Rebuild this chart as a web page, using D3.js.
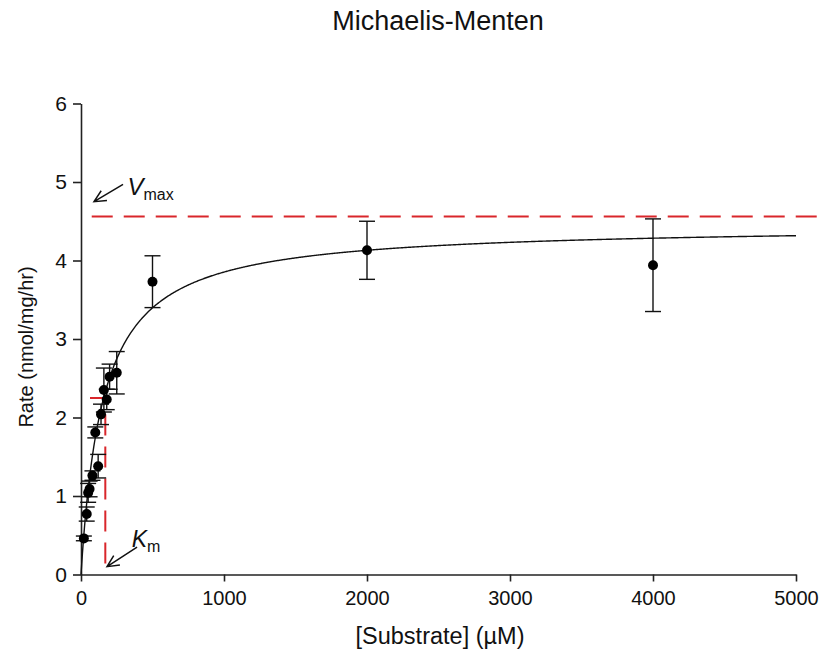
<!DOCTYPE html>
<html>
<head>
  <meta charset="utf-8">
  <title>Michaelis-Menten</title>
  <script src="https://d3js.org/d3.v7.min.js"></script>
  <style>
    body { margin: 0; background: #fff; }
    text { font-family: "Liberation Sans", Arial, sans-serif; fill: #111; }
  </style>
</head>
<body>
<script>
  // measured points: substrate (uM), rate (nmol/mg/hr), error
  const substrate = [20, 40, 50, 60, 80, 100, 120, 140, 160, 180, 200, 250, 500, 2000, 4000];
  const rate      = [0.46, 0.77, 1.04, 1.09, 1.26, 1.81, 1.38, 2.04, 2.35, 2.23, 2.52, 2.57, 3.73, 4.13, 3.94];
  const rateErr   = [0.03, 0.09, 0.12, 0.10, 0.06, 0.07, 0.15, 0.13, 0.28, 0.13, 0.16, 0.27, 0.33, 0.37, 0.59];

  // fitted curve parameters
  const fitVmax = 4.45, fitKm = 155;
  // annotation guides
  const vmaxLine = 4.56, kmLine = 170, halfV = 2.25;

  const xTicks = [0, 1000, 2000, 3000, 4000, 5000];
  const yTicks = [0, 1, 2, 3, 4, 5, 6];

  const W = 820, H = 658;
  const svg = d3.select("body").append("svg")
    .attr("width", W).attr("height", H);

  const x = d3.scaleLinear().domain([0, 5000]).range([81, 796]);
  const y = d3.scaleLinear().domain([0, 6]).range([574.5, 103.5]);

  // title
  svg.append("text")
    .attr("x", 438).attr("y", 30)
    .attr("text-anchor", "middle")
    .style("font-size", "27px")
    .text("Michaelis-Menten");

  // axes
  const xAxis = svg.append("g")
    .attr("transform", `translate(0,${y(0)})`)
    .call(d3.axisBottom(x).tickValues(xTicks).tickSize(7).tickPadding(9).tickFormat(d3.format("d")).tickSizeOuter(0));
  const yAxis = svg.append("g")
    .attr("transform", `translate(${x(0)},0)`)
    .call(d3.axisLeft(y).tickValues(yTicks).tickSize(8).tickPadding(6).tickFormat(d3.format("d")).tickSizeOuter(0));

  [xAxis, yAxis].forEach(g => {
    g.selectAll(".domain").attr("stroke", "#222").attr("stroke-width", 1.6);
    g.selectAll(".tick line").attr("stroke", "#222").attr("stroke-width", 1.6);
    g.selectAll(".tick text").style("font-family", "'Liberation Sans', Arial, sans-serif").attr("fill", "#111");
  });
  xAxis.selectAll(".tick text").style("font-size", "20px");
  yAxis.selectAll(".tick text").style("font-size", "21px");

  // axis titles
  svg.append("text")
    .attr("x", 440).attr("y", 644)
    .attr("text-anchor", "middle")
    .style("font-size", "23.5px")
    .text("[Substrate] (µM)");
  svg.append("text")
    .attr("transform", `translate(33,347) rotate(-90)`)
    .attr("text-anchor", "middle")
    .style("font-size", "20px")
    .text("Rate (nmol/mg/hr)");

  // red dashed guides
  svg.append("line")
    .attr("x1", x(75)).attr("x2", W)
    .attr("y1", y(vmaxLine)).attr("y2", y(vmaxLine))
    .attr("stroke", "#d9262b").attr("stroke-width", 2)
    .attr("stroke-dasharray", "21,11");

  svg.append("path")
    .attr("d", d3.line()([[x(0), y(halfV)], [x(kmLine), y(halfV)], [x(kmLine), y(0)]]))
    .attr("fill", "none")
    .attr("stroke", "#d9262b").attr("stroke-width", 2)
    .attr("stroke-dasharray", "21,11")
    .attr("stroke-dashoffset", 23);

  // fitted curve
  const curveX = d3.range(0, 5001, 5);
  svg.append("path")
    .datum(curveX)
    .attr("d", d3.line().x(d => x(d)).y(d => y(fitVmax * d / (fitKm + d))))
    .attr("fill", "none")
    .attr("stroke", "#111").attr("stroke-width", 1.4);

  // error bars and points
  const pts = substrate.map((s, i) => ({s, v: rate[i], e: rateErr[i]}));
  const eb = svg.append("g").attr("stroke", "#111").attr("stroke-width", 1.4);
  eb.selectAll(".bar").data(pts).join("line")
    .attr("x1", d => x(d.s)).attr("x2", d => x(d.s))
    .attr("y1", d => y(d.v - d.e)).attr("y2", d => y(d.v + d.e));
  eb.selectAll(".capt").data(pts).join("line")
    .attr("x1", d => x(d.s) - 8).attr("x2", d => x(d.s) + 8)
    .attr("y1", d => y(d.v + d.e)).attr("y2", d => y(d.v + d.e));
  eb.selectAll(".capb").data(pts).join("line")
    .attr("x1", d => x(d.s) - 8).attr("x2", d => x(d.s) + 8)
    .attr("y1", d => y(d.v - d.e)).attr("y2", d => y(d.v - d.e));

  svg.append("g").selectAll("circle").data(pts).join("circle")
    .attr("cx", d => x(d.s)).attr("cy", d => y(d.v))
    .attr("r", 5).attr("fill", "#000");

  // annotation arrows
  function arrow(x1, y1, x2, y2) {
    const a = Math.atan2(y2 - y1, x2 - x1), L = 13, sp = 0.45;
    svg.append("path")
      .attr("d", `M${x1},${y1}L${x2},${y2}M${x2 - L * Math.cos(a - sp)},${y2 - L * Math.sin(a - sp)}L${x2},${y2}L${x2 - L * Math.cos(a + sp)},${y2 - L * Math.sin(a + sp)}`)
      .attr("fill", "none").attr("stroke", "#111").attr("stroke-width", 1.5);
  }
  arrow(x(294), y(4.97), x(91), y(4.75));
  arrow(x(392), y(0.35), x(182), y(0.1));

  const vLab = svg.append("text").attr("x", x(325)).attr("y", y(4.83)).style("font-size", "24px");
  vLab.append("tspan").style("font-style", "italic").text("V");
  vLab.append("tspan").attr("dy", 5).style("font-size", "16px").text("max");

  const kLab = svg.append("text").attr("x", x(355)).attr("y", y(0.35)).style("font-size", "23px");
  kLab.append("tspan").style("font-style", "italic").text("K");
  kLab.append("tspan").attr("dy", 5).style("font-size", "16px").text("m");
</script>
</body>
</html>
